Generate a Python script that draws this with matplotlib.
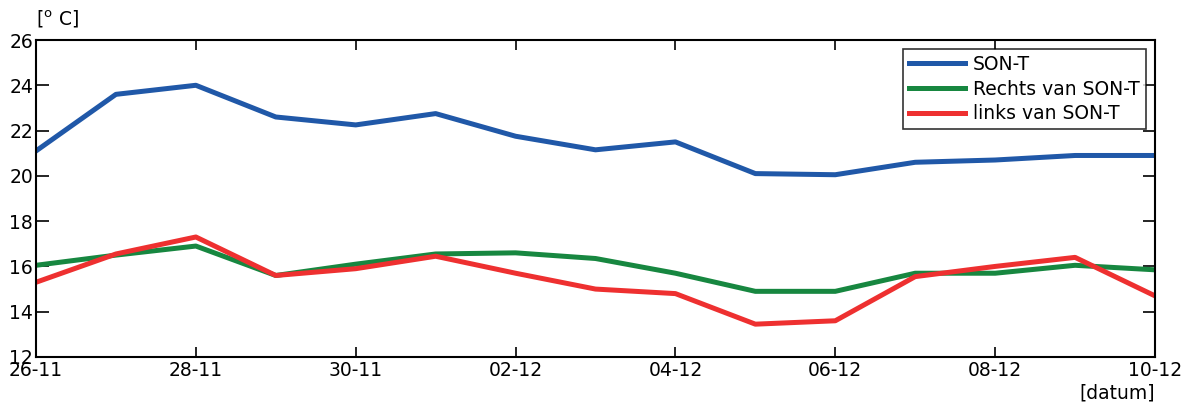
import matplotlib.pyplot as plt
import numpy as np

# daily temperatures, 26-11 .. 10-12
dagen = ['26-11', '27-11', '28-11', '29-11', '30-11', '01-12', '02-12', '03-12',
         '04-12', '05-12', '06-12', '07-12', '08-12', '09-12', '10-12']
son_t = [21.1, 23.6, 24.0, 22.6, 22.25, 22.75, 21.75, 21.15, 21.5, 20.1, 20.05, 20.6, 20.7, 20.9, 20.9]
rechts = [16.05, 16.5, 16.9, 15.6, 16.1, 16.55, 16.6, 16.35, 15.7, 14.9, 14.9, 15.7, 15.7, 16.05, 15.85]
links = [15.3, 16.55, 17.3, 15.6, 15.9, 16.45, 15.7, 15.0, 14.8, 13.45, 13.6, 15.55, 16.0, 16.4, 14.7]

plt.rcParams['font.family'] = 'DejaVu Sans'
fig = plt.figure(figsize=(11.92, 4.08), dpi=100)
ax = fig.add_axes([36 / 1192, 1 - 357 / 408, 1119 / 1192, 317 / 408])

x = np.arange(len(dagen))
ax.plot(x, son_t, color='#2058a8', lw=3.6, label='SON-T')
ax.plot(x, rechts, color='#178740', lw=3.6, label='Rechts van SON-T')
ax.plot(x, links, color='#ee3030', lw=3.6, label='links van SON-T')

ax.set_xlim(0, 14)
ax.set_ylim(12, 26)
ax.set_xticks(x[::2])
ax.set_xticklabels(dagen[::2])
ax.set_yticks(np.arange(12, 27, 2))
ax.tick_params(direction='in', top=True, right=True, length=7.5, width=1.2,
               labelsize=13.5, pad=2)
ax.tick_params(axis='y', which='both', left=True, length=9)
ax.tick_params(axis='x', pad=3)
for s in ax.spines.values():
    s.set_linewidth(1.5)

ax.text(0, 1.03, '[$^{\\rm o}$ C]', transform=ax.transAxes, fontsize=13.5, ha='left', va='bottom')
ax.text(1.0, -0.085, '[datum]', transform=ax.transAxes, fontsize=13.5, ha='right', va='top')

leg = ax.legend(loc='upper right', fontsize=13.5, frameon=True, fancybox=False,
                edgecolor='black', handlelength=3.0, borderaxespad=0.5,
                labelspacing=0.3, handletextpad=0.45, borderpad=0.3)
leg.get_frame().set_linewidth(1.2)

fig.savefig('out.png', dpi=100)
